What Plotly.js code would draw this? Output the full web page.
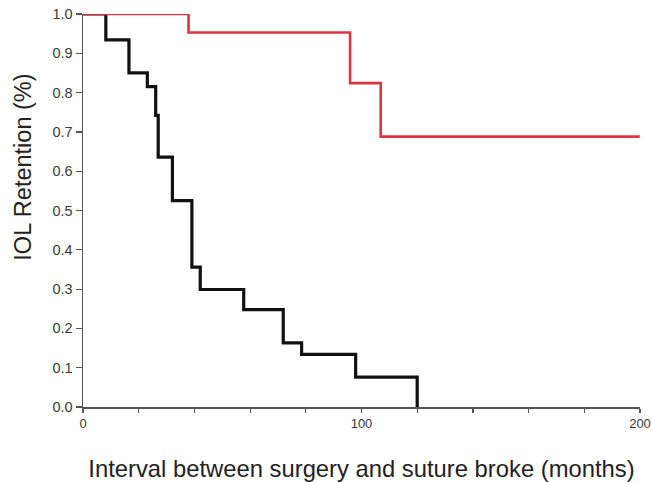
<!DOCTYPE html>
<html>
<head>
<meta charset="utf-8">
<script src="https://cdn.plot.ly/plotly-3.0.1.min.js"></script>
<style>html,body{margin:0;padding:0;background:#fff}#chart{width:652px;height:482px}</style>
</head>
<body>
<div id="chart"></div>
<script>
// Kaplan-Meier step data (months, retention)
var blackMonths = [0, 8.2, 16.5, 23.1, 26.1, 27.0, 32.1, 39.1, 42.1, 57.7, 71.9, 78.5, 97.9, 120.0];
var blackRetention = [1.0, 0.934, 0.850, 0.815, 0.742, 0.636, 0.525, 0.356, 0.299, 0.248, 0.163, 0.134, 0.076, 0.0];
var redMonths = [0, 37.9, 95.9, 106.9, 199.9];
var redRetention = [1.0, 0.953, 0.824, 0.688, 0.688];

var xTickVals = [0, 20, 40, 60, 80, 100, 120, 140, 160, 180, 200];
var xTickText = ['0', '', '', '', '', '100', '', '', '', '', '200'];
var yTickVals = [0, 0.1, 0.2, 0.3, 0.4, 0.5, 0.6, 0.7, 0.8, 0.9, 1.0];
var yTickText = ['0.0', '0.1', '0.2', '0.3', '0.4', '0.5', '0.6', '0.7', '0.8', '0.9', '1.0'];
var xTitle = 'Interval between surgery and suture broke (months)';
var yTitle = 'IOL Retention (%)';

var traces = [
  {x: blackMonths, y: blackRetention, type: 'scatter', mode: 'lines',
   line: {shape: 'hv', color: '#111111', width: 3.2}, cliponaxis: false, hoverinfo: 'skip'},
  {x: redMonths, y: redRetention, type: 'scatter', mode: 'lines',
   line: {shape: 'hv', color: '#de3340', width: 2.6}, cliponaxis: false, hoverinfo: 'skip'}
];

var layout = {
  width: 652, height: 482,
  margin: {l: 83, r: 12, t: 14, b: 75},
  paper_bgcolor: '#ffffff', plot_bgcolor: '#ffffff',
  showlegend: false,
  font: {family: 'Liberation Sans, Arial, sans-serif', color: '#333333'},
  xaxis: {
    range: [0, 200], tickvals: xTickVals, ticktext: xTickText,
    showgrid: false, zeroline: false, showline: true, linecolor: '#555555', linewidth: 1.5,
    ticks: 'outside', ticklen: 4, tickcolor: '#555555', tickwidth: 1.2,
    ticklabeloverflow: 'allow',
    tickfont: {size: 13, color: '#3a3a3a'},
    title: {text: xTitle, font: {size: 23.8, color: '#222222'}, standoff: 32}
  },
  yaxis: {
    range: [0, 1.0], tickvals: yTickVals, ticktext: yTickText,
    showgrid: false, zeroline: false, showline: true, linecolor: '#555555', linewidth: 1.5,
    ticks: 'outside', ticklen: 6, tickcolor: '#555555', tickwidth: 1.2,
    ticklabeloverflow: 'allow',
    tickfont: {size: 14.5, color: '#3a3a3a'}
  },
  annotations: [
    {text: yTitle, xref: 'paper', yref: 'paper', x: -0.107, y: 0.61,
     xanchor: 'center', yanchor: 'middle', textangle: -90, showarrow: false,
     font: {size: 23.5, color: '#222222'}}
  ]
};

Plotly.newPlot('chart', traces, layout, {staticPlot: true, displayModeBar: false});
</script>
</body>
</html>
